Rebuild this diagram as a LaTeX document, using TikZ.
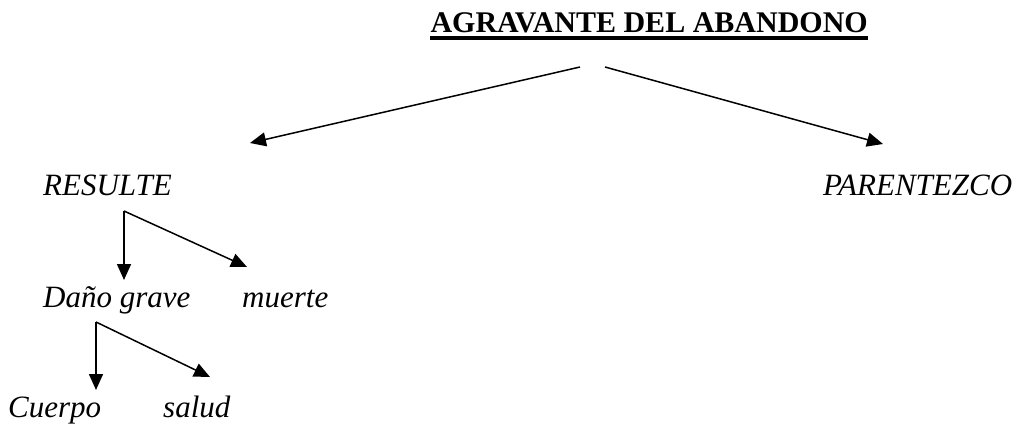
\documentclass[tikz,border=0pt]{standalone}
\usepackage{fontspec}
\setmainfont{Liberation Serif}
\usetikzlibrary{arrows.meta}
\begin{document}
\begin{tikzpicture}[x=1pt,y=1pt,
  lbl/.style={inner sep=0pt,anchor=base west,font=\fontsize{31}{31}\selectfont\itshape},
  conn/.style={line width=1.5pt,-{Triangle[length=16pt,width=14pt]}}]
\useasboundingbox (0,0) rectangle (1023,-425);
\node[inner sep=0pt,anchor=base east,font=\fontsize{30}{30}\selectfont\bfseries] (title) at (868,-33) {AGRAVANTE DEL ABANDONO};
\draw[line width=3.5pt] ([yshift=-5pt]title.base west) -- ([yshift=-5pt]title.base east);
\node[lbl] (resulte) at (43,-196) {RESULTE};
\node[lbl] (parentezco) at (823,-196) {PARENTEZCO};
\node[lbl] (dano) at (43,-307) {Daño grave};
\node[lbl] (muerte) at (242,-307) {muerte};
\node[lbl] (cuerpo) at (8,-417) {Cuerpo};
\node[lbl] (salud) at (163,-417) {salud};
% connector end points
\coordinate (tL) at (580,-67);
\coordinate (tR) at (605,-67);
\coordinate (rL) at (250,-143);
\coordinate (pR) at (883,-144);
\coordinate (rc) at (124,-211);
\coordinate (dTop) at (124,-280);
\coordinate (mTop) at (247,-267);
\coordinate (dc) at (96,-322);
\coordinate (cTop) at (96,-390);
\coordinate (sTop) at (210,-377);
\draw[conn] (tL) -- (rL);
\draw[conn] (tR) -- (pR);
\draw[conn] (rc) -- (dTop);
\draw[conn] (rc) -- (mTop);
\draw[conn] (dc) -- (cTop);
\draw[conn] (dc) -- (sTop);
\end{tikzpicture}
\end{document}
